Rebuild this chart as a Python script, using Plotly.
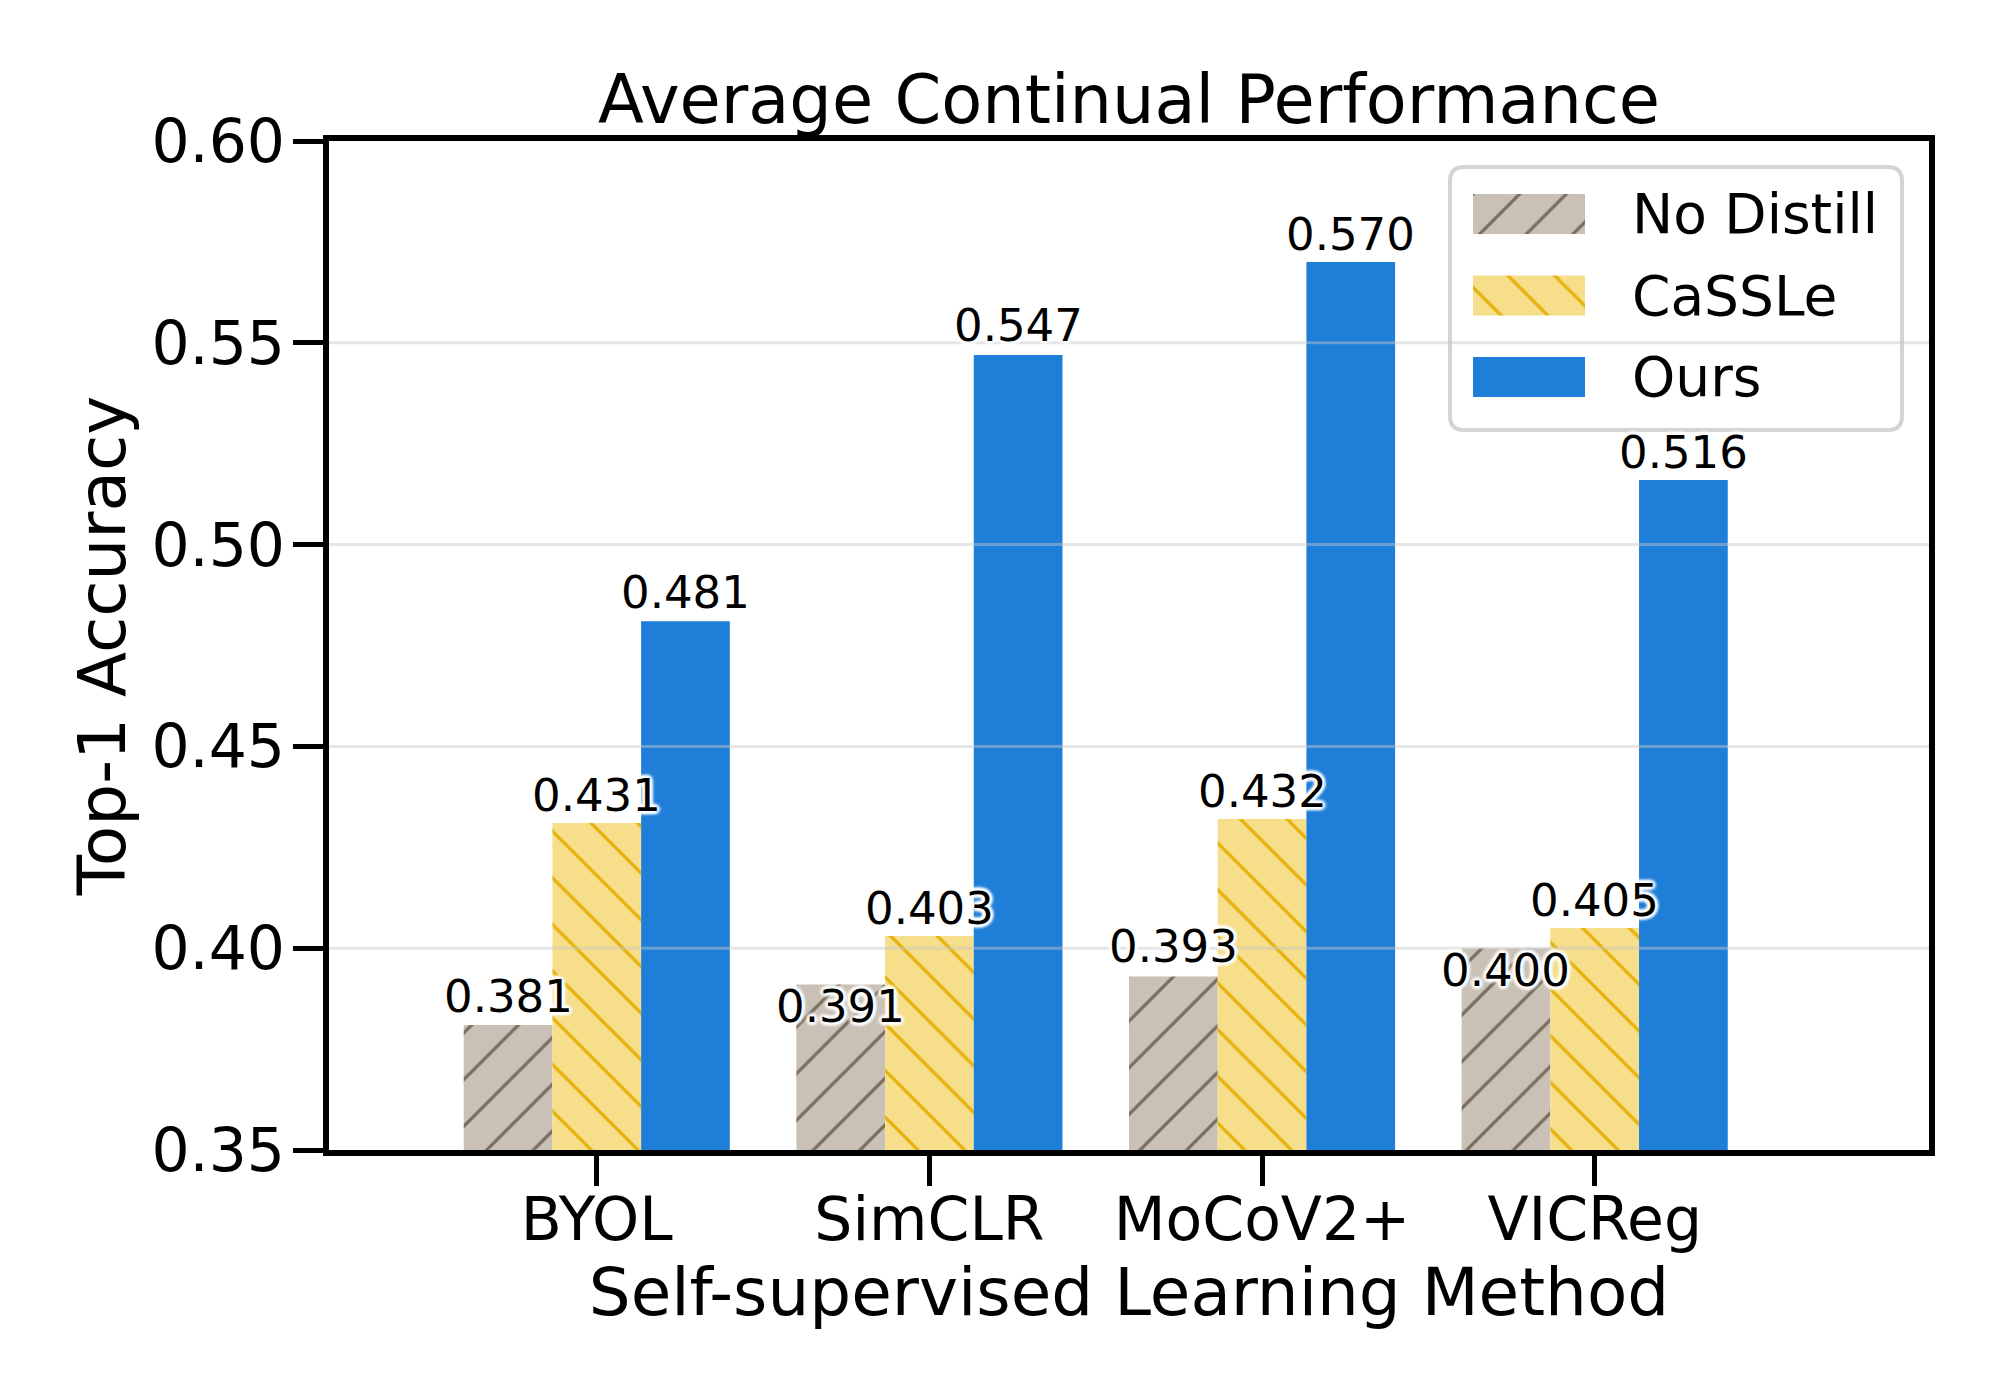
import plotly.graph_objects as go

# ---------------- data ----------------
methods = ["BYOL", "SimCLR", "MoCoV2+", "VICReg"]
series_names = ["No Distill", "CaSSLe", "Ours"]
no_distill = [0.381, 0.391, 0.393, 0.400]
cassle = [0.431, 0.403, 0.432, 0.405]
ours = [0.481, 0.547, 0.570, 0.516]
y_ticks = [0.35, 0.40, 0.45, 0.50, 0.55, 0.60]

# ---------------- styles ----------------
FONT = "DejaVu Sans"
fills = ["#c9c0b6", "#f6de8a", "#1e7ed8"]
lines = ["#7a6e60", "#e6b20a", "#1e7ed8"]
shapes_ = ["/", "\\", ""]
# label vertical shift (px) of each value label, per series / per method
label_shift = [[28, -22, 30, -22], [28, 28, 28, 28], [29, 29, 28, 28]]

W_FIG, H_FIG = 2000, 1400
L, R, T, B = 329, 1929, 141, 1150
PW, PH = R - L, B - T


def X(px):
    return (px - L) / PW


def Y(py):
    return (B - py) / PH


series_vals = [no_distill, cassle, ours]
bar_w = 0.8 / 3
offsets = [-bar_w, 0.0, bar_w]
xs = list(range(len(methods)))

fig = go.Figure()
for i, (name, vals) in enumerate(zip(series_names, series_vals)):
    pat = dict(shape=shapes_[i], bgcolor=fills[i], fgcolor=lines[i],
               size=33, solidity=0.1, fillmode="replace")
    fig.add_trace(go.Bar(
        x=xs, y=vals, name=name, width=bar_w,
        offset=offsets[i] - bar_w / 2,
        marker=dict(color=fills[i], line=dict(width=0), pattern=pat),
        showlegend=False, hoverinfo="skip",
    ))

# ---------- custom legend (swatches drawn as bars in a tiny subplot) ----------
sw_x0, sw_x1 = 1473, 1585
sw_top, sw_bot = 194, 397
for i in range(3):
    pat = dict(shape=shapes_[i], bgcolor=fills[i], fgcolor=lines[i],
               size=33, solidity=0.1, fillmode="replace")
    fig.add_trace(go.Bar(
        x=[1], y=[i], orientation="h", width=0.49, base=0,
        marker=dict(color=fills[i], line=dict(width=0), pattern=pat),
        xaxis="x2", yaxis="y2", showlegend=False, hoverinfo="skip",
    ))

annotations = []
# value labels
h = "rgba(255,255,255,0.9)"
halo = ", ".join(f"{h} {dx}px {dy}px 3px" for dx, dy in
                 [(2, 2), (-2, -2), (2, -2), (-2, 2), (0, 3), (0, -3), (3, 0), (-3, 0)])
for i, vals in enumerate(series_vals):
    for j, v in enumerate(vals):
        annotations.append(dict(
            x=xs[j] + offsets[i], y=v, xref="x", yref="y",
            text=f"{v:.3f}", showarrow=False, yanchor="middle", xanchor="center",
            yshift=label_shift[i][j],
            font=dict(family=FONT, size=45, color="black", shadow=halo),
        ))

# legend texts
sw_centers = [214, 296, 377]
for name, cy in zip(series_names, sw_centers):
    annotations.append(dict(
        x=X(1630), y=Y(cy), xref="paper", yref="paper", text=name,
        showarrow=False, xanchor="left", yanchor="middle",
        font=dict(family=FONT, size=55, color="black"),
    ))

# legend frame (rounded rect)
bx0, bx1, by0, by1 = X(1450), X(1902), Y(430), Y(167)
rx, ry = 14 / PW, 14 / PH
frame = (f"M{bx0 + rx},{by1} L{bx1 - rx},{by1} Q{bx1},{by1} {bx1},{by1 - ry} "
         f"L{bx1},{by0 + ry} Q{bx1},{by0} {bx1 - rx},{by0} L{bx0 + rx},{by0} "
         f"Q{bx0},{by0} {bx0},{by0 + ry} L{bx0},{by1 - ry} Q{bx0},{by1} {bx0 + rx},{by1} Z")

shapes = []
# gridlines drawn above bars (semi-transparent)
for t in y_ticks[1:-1]:
    shapes.append(dict(type="line", xref="paper", yref="y", x0=0, x1=1, y0=t, y1=t,
                       line=dict(color="rgba(200,200,200,0.45)", width=3), layer="above"))
shapes.append(dict(type="path", path=frame, xref="paper", yref="paper",
                   fillcolor="rgba(255,255,255,0.85)",
                   line=dict(color="#d4d4d4", width=4), layer="below"))

fig.update_layout(
    width=W_FIG, height=H_FIG,
    margin=dict(l=L, r=W_FIG - R, t=T, b=H_FIG - B, pad=0),
    paper_bgcolor="white", plot_bgcolor="white",
    font=dict(family=FONT, color="black"),
    barmode="overlay",
    title=dict(text="Average Continual Performance", x=X((L + R) / 2), xref="paper",
               xanchor="center", y=1 - 100 / H_FIG, yanchor="middle",
               font=dict(family=FONT, size=67, color="black")),
    xaxis=dict(
        range=[-0.805, 4.005], tickmode="array", tickvals=xs, ticktext=methods,
        showgrid=False, zeroline=False,
        showline=True, linecolor="black", linewidth=6, mirror=True,
        ticks="outside", ticklen=30, tickwidth=5, tickcolor="black",
        ticklabelstandoff=-18,
        tickfont=dict(family=FONT, size=60, color="black"),
        title=dict(text="Self-supervised Learning Method", standoff=16,
                   font=dict(family=FONT, size=66, color="black")),
    ),
    yaxis=dict(
        range=[0.35, 0.60], tickmode="array", tickvals=y_ticks,
        ticktext=[f"{t:.2f}" for t in y_ticks],
        showgrid=False, zeroline=False,
        showline=True, linecolor="black", linewidth=6, mirror=True,
        ticks="outside", ticklen=30, tickwidth=5, tickcolor="black",
        ticklabelstandoff=-4,
        tickfont=dict(family=FONT, size=60, color="black"),
        title=dict(text="Top-1 Accuracy", standoff=6,
                   font=dict(family=FONT, size=66, color="black")),
    ),
    xaxis2=dict(domain=[X(sw_x0), X(sw_x1)], anchor="y2", range=[0, 1],
                visible=False, fixedrange=True),
    yaxis2=dict(domain=[Y(sw_bot), Y(sw_top)], anchor="x2", range=[2.245, -0.245],
                visible=False, fixedrange=True),
    annotations=annotations,
    shapes=shapes,
    showlegend=False,
)

fig.write_html("out.html", config={"displayModeBar": False},
               post_script="document.body.style.margin='0px';")
